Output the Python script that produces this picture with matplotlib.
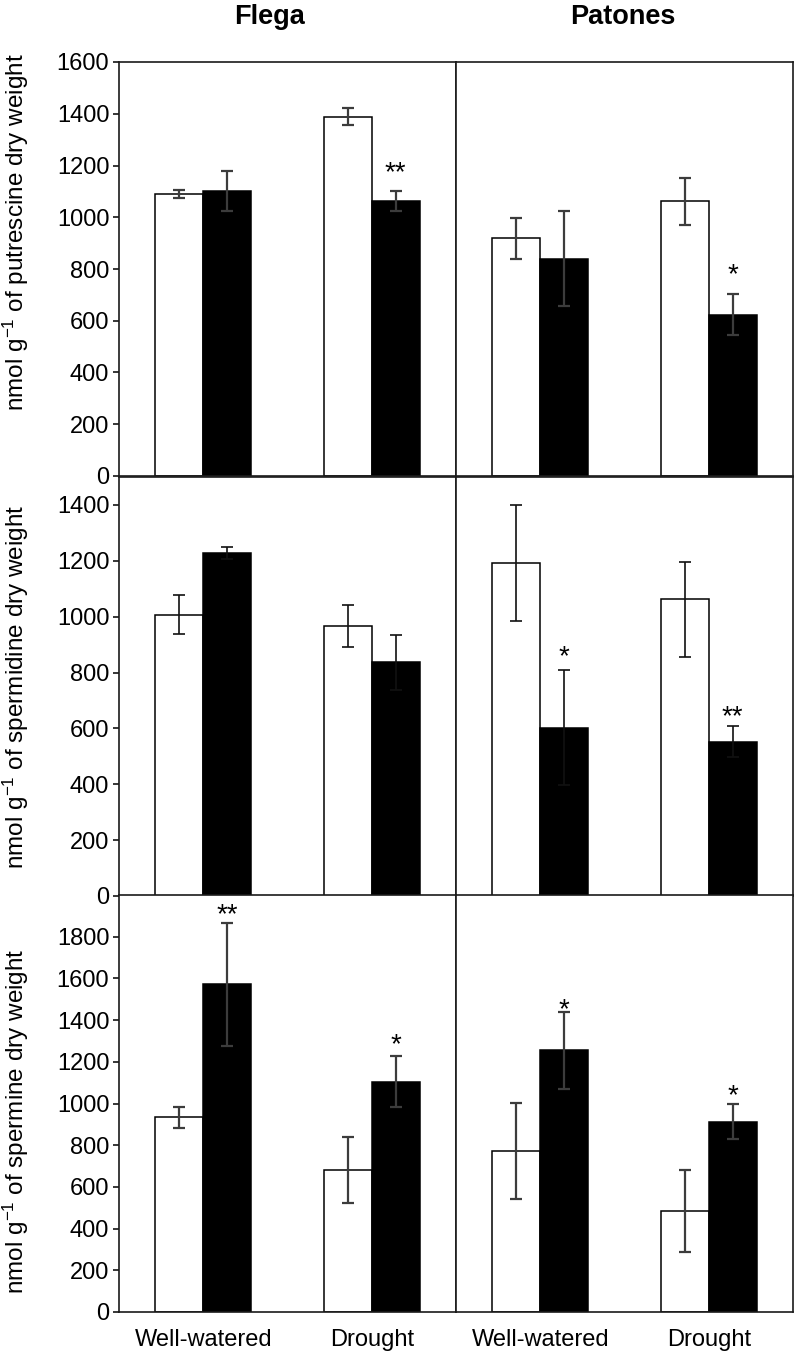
import numpy as np
import matplotlib
matplotlib.use('Agg')
from matplotlib import pyplot as plt

plt.rcParams['font.family'] = ['Liberation Sans', 'DejaVu Sans']
plt.rcParams['mathtext.fontset'] = 'custom'
plt.rcParams['mathtext.rm'] = 'Liberation Sans'
plt.rcParams['mathtext.default'] = 'regular'

categories = ['Well-watered', 'Drought']
cultivars = ['Flega', 'Patones']

# putrescine (nmol g-1 DW) - white = control, black = treated
put_flega_white = [1090, 1388]
put_flega_white_err = [15, 33]
put_flega_black = [1101, 1063]
put_flega_black_err = [76, 38]
put_patones_white = [918, 1061]
put_patones_white_err = [81, 90]
put_patones_black = [840, 624]
put_patones_black_err = [184, 80]

# spermidine
spd_flega_white = [1007, 967]
spd_flega_white_err = [70, 75]
spd_flega_black = [1228, 836]
spd_flega_black_err = [23, 100]
spd_patones_white = [1192, 1063]
spd_patones_white_err = [[207, 206], [207, 132]]   # lower, upper
spd_patones_black = [602, 552]
spd_patones_black_err = [206, 55]

# spermine
spm_flega_white = [934, 679]
spm_flega_white_err = [51, 158]
spm_flega_black = [1573, 1105]
spm_flega_black_err = [295, 122]
spm_patones_white = [771, 484]
spm_patones_white_err = [230, 197]
spm_patones_black = [1255, 913]
spm_patones_black_err = [184, 85]

# significance marks over black bars, and their heights
put_flega_marks = ['', '**']
put_flega_marks_y = [0, 1196]
put_patones_marks = ['', '*']
put_patones_marks_y = [0, 803]
spd_flega_marks = ['', '']
spd_flega_marks_y = [0, 0]
spd_patones_marks = ['*', '**']
spd_patones_marks_y = [880, 664]
spm_flega_marks = ['**', '*']
spm_flega_marks_y = [1936, 1313]
spm_patones_marks = ['*', '*']
spm_patones_marks_y = [1483, 1068]

ylabels = [r'nmol g$^{-1}$ of putrescine dry weight',
           r'nmol g$^{-1}$ of spermidine dry weight',
           r'nmol g$^{-1}$ of spermine dry weight']
ylims = [1600, 1500, 2000]
ytops = [1600, 1400, 1800]

rows = [
    [(put_flega_white, put_flega_white_err, put_flega_black, put_flega_black_err, put_flega_marks, put_flega_marks_y),
     (put_patones_white, put_patones_white_err, put_patones_black, put_patones_black_err, put_patones_marks, put_patones_marks_y)],
    [(spd_flega_white, spd_flega_white_err, spd_flega_black, spd_flega_black_err, spd_flega_marks, spd_flega_marks_y),
     (spd_patones_white, spd_patones_white_err, spd_patones_black, spd_patones_black_err, spd_patones_marks, spd_patones_marks_y)],
    [(spm_flega_white, spm_flega_white_err, spm_flega_black, spm_flega_black_err, spm_flega_marks, spm_flega_marks_y),
     (spm_patones_white, spm_patones_white_err, spm_patones_black, spm_patones_black_err, spm_patones_marks, spm_patones_marks_y)],
]

W, H = 800, 1356
fig = plt.figure(figsize=(W / 100, H / 100), dpi=100)

# pixel boxes of each row: (top, bottom)
row_px = [(62, 476), (477, 896), (895, 1312)]
col_px = [(119, 456), (456, 793)]
label_y = [0.59, 0.5, 0.457]
err_colors = ['#3c3c3c', '#111111', '#3c3c3c']
err_widths = [1.6, 1.2, 1.6]

x = np.arange(len(categories))
w = 0.285

for r, (top, bot) in enumerate(row_px):
    for c, (left, right) in enumerate(col_px):
        ax = fig.add_axes([left / W, 1 - bot / H, (right - left) / W, (bot - top) / H])
        white, white_err, black, black_err, marks, marks_y = rows[r][c]
        ax.bar(x - w / 2, white, w, color='white', edgecolor='black', linewidth=1.1, zorder=2)
        ax.bar(x + w / 2, black, w, color='black', edgecolor='black', linewidth=1.1, zorder=2)
        ax.errorbar(x - w / 2, white, yerr=white_err, fmt='none', ecolor=err_colors[r],
                    elinewidth=err_widths[r], capsize=4, capthick=err_widths[r], zorder=3)
        ax.errorbar(x + w / 2, black, yerr=black_err, fmt='none', ecolor=err_colors[r],
                    elinewidth=err_widths[r], capsize=4, capthick=err_widths[r], zorder=3)
        for i, m in enumerate(marks):
            if m:
                ax.annotate(m, (x[i] + w / 2, marks_y[i]), xytext=(0, -5),
                            textcoords='offset points', ha='center', va='center',
                            fontsize=20, zorder=4)
        ax.set_xlim(-0.5, 1.5)
        ax.set_ylim(0, ylims[r])
        for sp in ax.spines.values():
            sp.set_linewidth(1.2)
            sp.set_color('#1a1a1a')
        ax.set_xticks(x)
        ax.tick_params(axis='x', length=0, pad=12, labelsize=17)
        if r == 2:
            ax.set_xticklabels(categories)
        else:
            ax.set_xticklabels([])
        if c == 0:
            ax.set_yticks(np.arange(0, ytops[r] + 1, 200))
            ax.tick_params(axis='y', direction='out', length=4, width=1.1, labelsize=17, pad=3)
            ax.set_ylabel(ylabels[r], fontsize=17.5)
            ax.yaxis.set_label_coords(-0.26, label_y[r])
        else:
            ax.set_yticks([])

fig.text(270 / W, 1 - 17 / H, cultivars[0], ha='center', va='center', fontsize=19.5, fontweight='bold')
fig.text(623 / W, 1 - 17 / H, cultivars[1], ha='center', va='center', fontsize=19.5, fontweight='bold')

fig.savefig('out.png', dpi=100)
